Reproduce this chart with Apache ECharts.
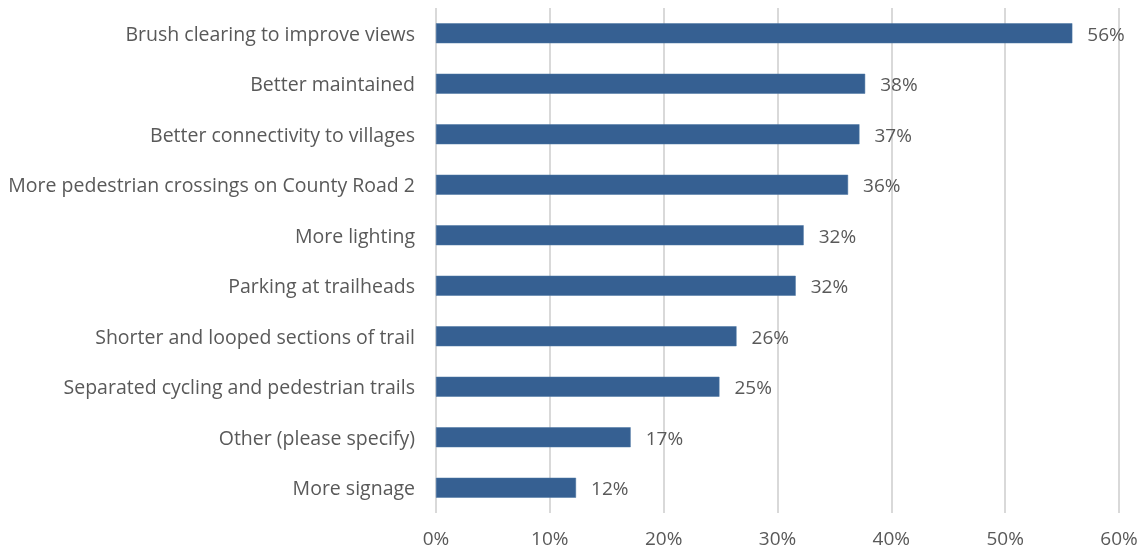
<!DOCTYPE html>
<html>
<head>
<meta charset="utf-8">
<script src="https://cdn.jsdelivr.net/npm/echarts@6/dist/echarts.min.js"></script>
<style>
  html, body { margin: 0; padding: 0; background: #fff; }
  #chart { width: 1145px; height: 552px; }
</style>
</head>
<body>
<div id="chart"></div>
<script>
// Categories listed bottom to top (ECharts category axis starts at the bottom)
const categories = [
  'More signage',
  'Other (please specify)',
  'Separated cycling and pedestrian trails',
  'Shorter and looped sections of trail',
  'Parking at trailheads',
  'More lighting',
  'More pedestrian crossings on County Road 2',
  'Better connectivity to villages',
  'Better maintained',
  'Brush clearing to improve views'
];
const shares = [12.3, 17.1, 24.9, 26.4, 31.6, 32.3, 36.2, 37.2, 37.7, 55.9];
const labels = ['12%', '17%', '25%', '26%', '32%', '32%', '36%', '37%', '38%', '56%'];

const chart = echarts.init(document.getElementById('chart'));
const textColor = '#595959';
const font = '"Open Sans", "Noto Sans", sans-serif';

chart.setOption({
  animation: false,
  grid: { left: 436, right: 26, top: 8, bottom: 39 },
  xAxis: {
    type: 'value',
    min: 0,
    max: 60,
    interval: 10,
    axisLine: { show: false },
    axisTick: { show: false },
    splitLine: { lineStyle: { color: '#d9d9d9', width: 2 } },
    axisLabel: {
      formatter: v => v + '%',
      color: textColor,
      fontFamily: font,
      fontSize: 19,
      margin: 17
    }
  },
  yAxis: {
    type: 'category',
    data: categories,
    axisLine: { show: false },
    axisTick: { show: false },
    axisLabel: {
      margin: 21,
      formatter: v => '{c|' + v + '}',
      rich: {
        c: {
          color: textColor,
          fontFamily: font,
          fontSize: 19.5,
          padding: [4, 0, 0, 0]
        }
      }
    }
  },
  series: [{
    type: 'bar',
    data: shares,
    barWidth: 20,
    itemStyle: { color: '#366092', borderColor: '#4a74a3', borderWidth: 0.5 },
    label: {
      show: true,
      position: 'right',
      distance: 15,
      offset: [0, 2],
      color: textColor,
      fontFamily: font,
      fontSize: 19,
      formatter: p => labels[p.dataIndex]
    }
  }]
});
</script>
</body>
</html>
